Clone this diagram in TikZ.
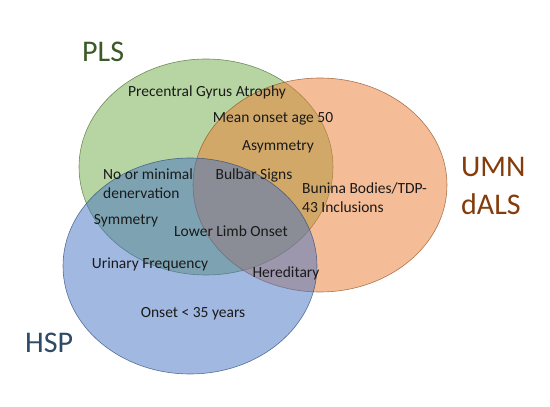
\documentclass[tikz,border=0pt]{standalone}
\usepackage{fontspec}
\setmainfont{Carlito}
\definecolor{plsg}{HTML}{70AD47}
\definecolor{umno}{HTML}{ED7D31}
\definecolor{hspb}{HTML}{4472C4}
\definecolor{plstxt}{HTML}{3A5A28}
\definecolor{umntxt}{HTML}{843C0C}
\definecolor{hsptxt}{HTML}{2E4A66}
\definecolor{bodytxt}{HTML}{1A1A1A}
\begin{document}
\begin{tikzpicture}[x=1pt,y=1pt,
  setfill/.style={fill=#1, fill opacity=0.5, draw=#1!60!black, draw opacity=0.7, line width=0.6pt},
  item/.style={inner sep=0pt, text=bodytxt, font=\fontsize{15.5}{19}\selectfont},
  itemleft/.style={item, align=left, anchor=west},
  setlabel/.style={inner sep=0pt, anchor=base west, font=\fontsize{30}{36}\selectfont}]
\useasboundingbox (0,0) rectangle (550,407);
\fill[white] (0,0) rectangle (550,407);
% ellipses
\path[setfill=plsg] (206,240) ellipse [x radius=127, y radius=108];
\path[setfill=umno] (320,222) ellipse [x radius=127, y radius=107];
\path[setfill=hspb] (190,141) ellipse [x radius=127, y radius=108];
% set labels
\node[setlabel, text=plstxt] (pls) at (82,345) {PLS};
\node[setlabel, text=umntxt] (umn) at (461,230) {UMN};
\node[setlabel, text=umntxt] (dals) at (461,192) {dALS};
\node[setlabel, text=hsptxt] (hsp) at (25,54) {HSP};
% items
\node[item] (pga) at (207,315) {Precentral Gyrus Atrophy};
\node[item] (mean) at (273,288) {Mean onset age 50};
\node[item] (asym) at (278,260) {Asymmetry};
\node[itemleft] (nomin) at (103,223) {No or minimal\\denervation};
\node[item] (bulbar) at (254,232) {Bulbar Signs};
\node[itemleft] (bunina) at (302,209) {Bunina Bodies/TDP-\\43 Inclusions};
\node[item] (sym) at (126,186) {Symmetry};
\node[item] (lower) at (231,176) {Lower Limb Onset};
\node[item] (urin) at (150,143) {Urinary Frequency};
\node[item] (hered) at (286,134) {Hereditary};
\node[item] (onset) at (193,93) {Onset < 35 years};
\end{tikzpicture}
\end{document}
